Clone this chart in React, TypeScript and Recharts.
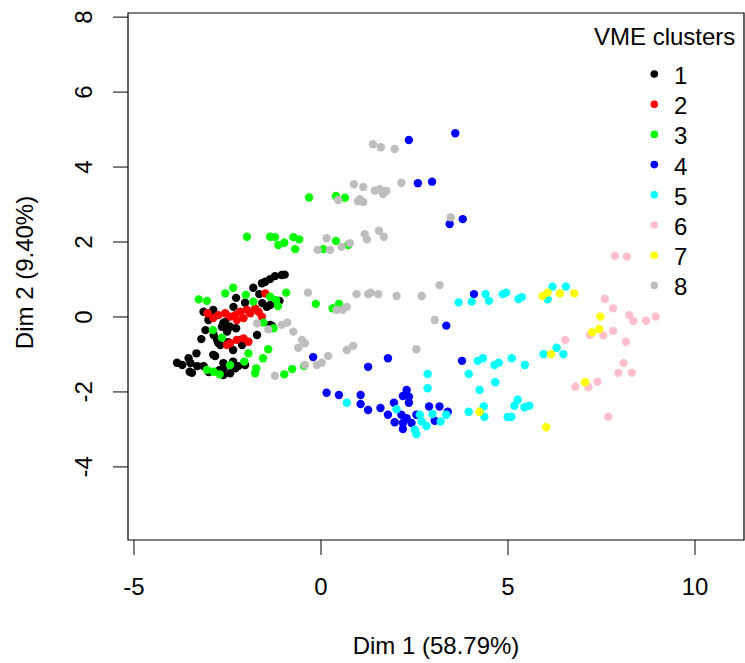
import { ScatterChart, Scatter, XAxis, YAxis, ReferenceArea, Legend, Label } from 'recharts';

// Coordenadas (Dim 1, Dim 2)
const CLUSTER_1: [number, number][] = [
  [-1.05, 1.12], [-1.23, 1.09], [-1.36, 1.01], [-1.49, 0.94], [-1.58, 0.9], [-1.81, 0.78], [-1.65, 0.61],
  [-2.27, 0.51], [-2.03, 0.38], [-1.11, 0.43], [-1.45, 0.27], [-3.14, 0.14], [-3.01, -0.08], [-2.56, -0.13],
  [-2.43, -0.26], [-2.27, -0.3], [-2.65, -0.26], [-3.09, -0.35], [-2.87, -0.48], [-1.31, -0.24], [-1.71, -0.48],
  [-3.2, -0.59], [-2.78, -0.61], [-2.69, -0.75], [-3.33, -0.97], [-3.54, -1.1], [-3.71, -1.28], [-3.49, -1.23],
  [-3.31, -1.31], [-3.51, -1.46], [-3.45, -1.49], [-3.14, -1.31], [-2.83, -1.04], [-2.61, -1.23], [-2.35, -1.19],
  [-2.61, -1.37], [-2.43, -1.5], [-2.21, -1.31], [-2.03, -1.28], [-2.29, -1.37], [-3.85, -1.22], [-3.0, -1.47],
  [-2.72, -1.42], [-0.97, 1.13], [-2.96, 0.01], [-2.51, -0.39], [-2.34, 0.27], [-2.35, -0.88],
  [-2.61, -0.16], [-2.75, -0.69], [-2.48, -0.67], [-2.16, -0.61], [-2.11, -0.75], [-1.36, -0.21], [-2.88, -1.01],
  [-2.61, -1.55], [-2.88, 0.19], [-1.57, 0.37], [-1.36, 0.32]
];

const CLUSTER_2: [number, number][] = [
  [-3.03, 0.1], [-2.74, 0.05], [-2.56, 0.1], [-2.43, 0.01], [-2.29, 0.05], [-2.16, 0.14], [-1.98, 0.19],
  [-1.89, 0.1], [-1.76, 0.23], [-1.67, 0.14], [-1.58, 0.01], [-2.25, -0.08], [-2.07, -0.03], [-1.49, 0.63],
  [-2.43, -0.7], [-2.25, -0.61], [-2.07, -0.57], [-1.94, -0.66], [-2.51, -0.75], [-2.88, -0.03]
];

const CLUSTER_3: [number, number][] = [
  [-3.27, 0.47], [-3.05, 0.43], [-2.56, 0.63], [-2.35, 0.78], [-2.01, 0.59], [-1.81, 0.41], [-1.36, 0.54],
  [-1.2, 0.45], [-0.93, 0.65], [-1.15, 0.29], [-2.89, -0.35], [-2.65, -0.55], [-1.54, -0.15], [-1.27, -0.3],
  [-0.14, 0.35], [0.31, 0.23], [0.48, 0.35], [-1.41, -0.86], [-1.55, -1.1], [-1.94, -0.97], [-2.05, -1.19],
  [-1.73, -1.37], [-1.76, -1.5], [-3.05, -1.41], [-2.87, -1.46], [-2.71, -1.53], [-2.43, -1.28], [-0.98, -1.53],
  [-0.77, -1.39], [-0.45, -1.31], [-0.32, 3.19], [0.4, 3.23], [0.64, 3.18], [-1.98, 2.14], [-1.36, 2.14],
  [-1.23, 2.13], [-1.14, 1.92], [-0.98, 1.98], [-0.74, 2.13], [-0.58, 2.07], [-0.69, 1.81], [0.06, 1.81],
  [0.4, 2.03], [0.73, 1.92]
];

const CLUSTER_4: [number, number][] = [
  [2.35, 4.72], [3.59, 4.9], [2.59, 3.57], [2.97, 3.61], [3.44, 2.48], [3.79, 2.61], [4.09, 0.61], [3.35, -0.23],
  [-0.21, -1.07], [1.79, -1.1], [1.26, -1.33], [3.77, -1.17], [0.15, -2.02], [0.48, -2.08], [1.06, -2.08],
  [1.06, -2.32], [1.26, -2.48], [1.59, -2.43], [1.79, -2.61], [1.95, -2.29], [2.29, -1.95], [2.19, -2.11],
  [2.35, -2.13], [2.35, -2.29], [2.15, -2.61], [2.29, -2.7], [2.19, -2.83], [2.42, -2.83], [2.55, -2.61],
  [1.97, -2.81], [2.19, -2.99], [2.89, -2.39], [3.17, -2.39], [3.39, -2.53], [3.04, -2.77]
];

const CLUSTER_5: [number, number][] = [
  [3.68, 0.39], [4.03, 0.41], [4.4, 0.61], [4.49, 0.43], [4.86, 0.61], [4.95, 0.65], [5.28, 0.48], [5.37, 0.53],
  [6.19, 0.81], [6.55, 0.81], [6.06, 0.47], [6.3, -0.82], [5.95, -0.99], [6.48, -0.99], [4.19, -1.17],
  [4.33, -1.1], [4.64, -1.28], [4.75, -1.22], [5.1, -1.1], [5.45, -1.28], [3.95, -1.52], [4.66, -1.74],
  [4.24, -1.95], [2.85, -1.52], [2.85, -1.9], [0.69, -2.29], [2.02, -2.46], [2.64, -2.61], [2.69, -2.79],
  [2.82, -2.91], [2.51, -3.01], [2.55, -3.12], [2.98, -2.59], [3.2, -2.79], [3.35, -2.61], [3.95, -2.53],
  [5.26, -2.21], [5.17, -2.37], [5.44, -2.41], [5.57, -2.37], [4.99, -2.67], [5.09, -2.66], [4.35, -2.39],
  [4.37, -2.66]
];

const CLUSTER_6: [number, number][] = [
  [7.86, 1.63], [8.18, 1.61], [7.59, 0.48], [7.81, 0.23], [8.24, 0.05], [8.35, -0.11], [8.69, -0.1], [8.95, 0.01],
  [7.19, -0.48], [7.55, -0.49], [7.81, -0.37], [8.15, -0.66], [6.53, -0.61], [8.09, -1.23], [7.95, -1.49],
  [8.31, -1.49], [6.8, -1.86], [7.15, -1.87], [7.39, -1.73], [7.68, -2.66]
];

const CLUSTER_7: [number, number][] = [
  [4.24, -2.53], [5.93, 0.56], [6.06, 0.65], [6.39, 0.63], [6.77, 0.63], [7.47, 0.01], [7.44, -0.32],
  [7.25, -0.41], [6.15, -0.99], [7.06, -1.74], [6.02, -2.94]
];

const CLUSTER_8: [number, number][] = [
  [-0.35, 0.65], [0.58, 0.19], [0.69, 0.27], [-1.71, -0.17], [-1.41, -0.33], [-1.05, -0.21], [-0.9, -0.15],
  [-0.74, -0.39], [-0.51, -0.61], [-0.43, -0.7], [-0.61, -0.82], [0.19, -1.04], [0.69, -0.88], [0.86, -0.77],
  [-0.11, -1.28], [0.02, -1.22], [-0.43, -1.28], [-1.23, -1.57], [2.55, -0.86], [0.95, 0.61], [1.26, 0.61],
  [1.33, 0.65], [1.53, 0.61], [2.02, 0.56], [2.69, 0.56], [3.17, 0.85], [0.42, 0.19], [3.04, -0.08],
  [1.39, 4.61], [1.6, 4.53], [1.97, 4.48], [0.88, 3.54], [1.13, 3.47], [2.15, 3.58], [1.44, 3.37], [1.57, 3.41],
  [1.75, 3.36], [1.66, 3.28], [0.99, 3.09], [1.13, 3.07], [1.04, 3.14], [0.46, 3.12], [3.47, 2.66], [0.15, 2.1],
  [-0.09, 1.79], [0.24, 1.79], [0.55, 1.87], [0.77, 1.97], [1.17, 2.21], [1.23, 2.07], [1.55, 2.3], [1.68, 2.14]
];

const CLUSTER_NAMES = ['1', '2', '3', '4', '5', '6', '7', '8'];
const CLUSTER_COLORS = ['#000000', '#FF0000', '#00FF00', '#0000FF', '#00FFFF', '#FFC0CB', '#FFFF00', '#BEBEBE'];
const CLUSTER_POINTS = [CLUSTER_1, CLUSTER_2, CLUSTER_3, CLUSTER_4, CLUSTER_5, CLUSTER_6, CLUSTER_7, CLUSTER_8];

const X_TICKS = [-5, 0, 5, 10];
const Y_TICKS = [-4, -2, 0, 2, 4, 6, 8];
const X_DOMAIN: [number, number] = [-5.16, 11.31];
const Y_DOMAIN: [number, number] = [-5.95, 8.11];

const FONT = '"Liberation Sans", Arial, sans-serif';

const Dot = (props: any) => <circle cx={props.cx} cy={props.cy} r={4.2} fill={props.fill} />;

const YTick = ({ x, y, payload }: any) => (
  <text
    x={x}
    y={y}
    transform={`rotate(-90, ${x}, ${y})`}
    textAnchor="middle"
    fontSize={24}
    fontFamily={FONT}
    fill="#000"
  >
    {payload.value}
  </text>
);

const XTitle = ({ viewBox }: any) => (
  <text x={viewBox.x + viewBox.width / 2} y={viewBox.y + 114} textAnchor="middle" fontSize={24} fontFamily={FONT} fill="#000">
    Dim 1 (58.79%)
  </text>
);

const YTitle = ({ viewBox }: any) => {
  const cx = 33;
  const cy = viewBox.y + viewBox.height / 2 - 4;
  return (
    <text x={cx} y={cy} transform={`rotate(-90, ${cx}, ${cy})`} textAnchor="middle" fontSize={24} fontFamily={FONT} fill="#000">
      Dim 2 (9.40%)
    </text>
  );
};

// Legenda no estilo do R
const ClusterLegend = () => (
  <svg width={155} height={300} style={{ display: 'block' }}>
    <text x={4} y={45} fontSize={24} fontFamily={FONT} fill="#000">VME clusters</text>
    {CLUSTER_NAMES.map((name, i) => (
      <g key={name}>
        <circle cx={64.3} cy={74 + i * 30.2} r={3.8} fill={CLUSTER_COLORS[i]} />
        <text x={84} y={84 + i * 30.2} fontSize={24} fontFamily={FONT} fill="#000">{name}</text>
      </g>
    ))}
  </svg>
);

export default function App() {
  return (
    <div style={{ position: 'absolute', left: 0, top: 0, width: 745, height: 663, background: '#fff' }}>
      <ScatterChart width={745} height={663} margin={{ top: 13, right: 1, bottom: 0, left: 0 }}>
        <XAxis
          type="number"
          dataKey="x"
          domain={X_DOMAIN}
          ticks={X_TICKS}
          allowDataOverflow
          height={123}
          axisLine={false}
          tickLine={{ stroke: '#000' }}
          tickSize={15}
          tickMargin={23}
          tick={{ fill: '#000', fontSize: 24, fontFamily: FONT }}
          interval={0}
        >
          <Label content={<XTitle />} />
        </XAxis>
        <YAxis
          type="number"
          dataKey="y"
          domain={Y_DOMAIN}
          ticks={Y_TICKS}
          allowDataOverflow
          width={128}
          axisLine={false}
          tickLine={{ stroke: '#000' }}
          tickSize={15}
          tickMargin={21}
          tick={<YTick />}
          interval={0}
        >
          <Label content={<YTitle />} />
        </YAxis>
        <ReferenceArea
          x1={X_DOMAIN[0]}
          x2={X_DOMAIN[1]}
          y1={Y_DOMAIN[0]}
          y2={Y_DOMAIN[1]}
          fill="none"
          stroke="#000"
          strokeWidth={1.2}
          ifOverflow="visible"
        />
        {CLUSTER_POINTS.map((pts, i) => (
          <Scatter
            key={CLUSTER_NAMES[i]}
            name={CLUSTER_NAMES[i]}
            data={pts.map(([x, y]) => ({ x, y }))}
            fill={CLUSTER_COLORS[i]}
            shape={<Dot />}
            isAnimationActive={false}
          />
        ))}
        <Legend
          layout="vertical"
          align="center"
          verticalAlign="middle"
          content={<ClusterLegend />}
          wrapperStyle={{ left: 590, top: 0, width: 155, height: 300 }}
        />
      </ScatterChart>
    </div>
  );
}
